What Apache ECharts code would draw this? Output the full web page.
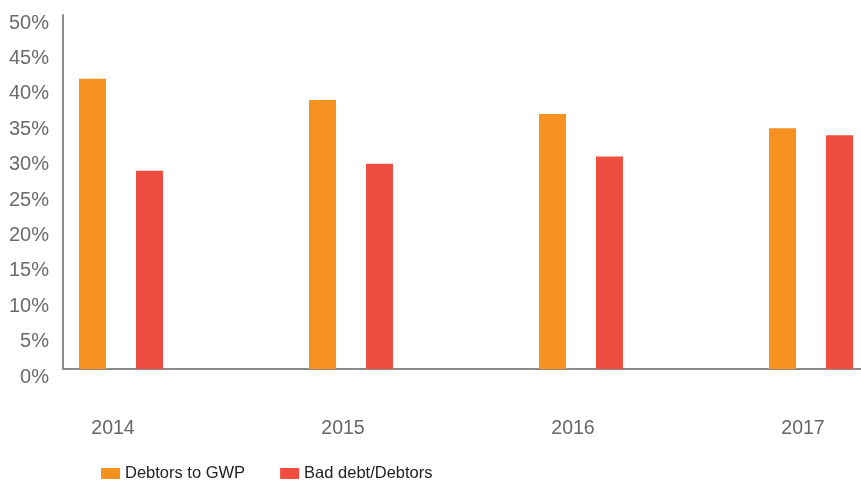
<!DOCTYPE html>
<html>
<head>
<meta charset="utf-8">
<title>Debtors to GWP and Bad debt/Debtors</title>
<script src="https://cdn.jsdelivr.net/npm/echarts@6/dist/echarts.min.js"></script>
<style>
  html, body { margin: 0; padding: 0; background: #ffffff; }
  #chart { width: 861px; height: 481px; }
</style>
</head>
<body>
<div id="chart"></div>
<script>
// Years on the horizontal axis
const years = ['2014', '2015', '2016', '2017'];
// Ratios in percent
const debtorsToGwp = [41, 38, 36, 34];
const badDebtToDebtors = [28, 29, 30, 33];
// Vertical scale
const yMin = 0;
const yMax = 50;
const yStep = 5;

const seriesNames = ['Debtors to GWP', 'Bad debt/Debtors'];
const colors = ['#F79120', '#EF4D40'];
const font = '"Liberation Sans", Arial, Helvetica, sans-serif';

const chart = echarts.init(document.getElementById('chart'), null, { renderer: 'canvas' });

chart.setOption({
  animation: false,
  backgroundColor: '#ffffff',
  grid: [
    // bars: one wide band per year (runs past the right edge)
    { left: 6, top: 15, right: -65, bottom: 112, containLabel: false, outerBoundsMode: 'none' },
    // frame holding the visible axes
    { left: 63, top: 15, right: 0, bottom: 112, containLabel: false, outerBoundsMode: 'none' }
  ],
  legend: {
    data: seriesNames,
    left: 101,
    top: 465,
    padding: 0,
    itemWidth: 19,
    itemHeight: 11,
    itemGap: 35,
    icon: 'rect',
    textStyle: { color: '#222222', fontSize: 16.5, fontFamily: font }
  },
  xAxis: [
    {
      gridIndex: 0,
      type: 'category',
      data: years,
      boundaryGap: true,
      axisLine: { show: false },
      axisTick: { show: false },
      axisLabel: {
        color: '#666666',
        fontSize: 19.5,
        fontFamily: font,
        margin: 50,
        padding: [0, 16, 0, 0]
      },
      splitLine: { show: false }
    },
    {
      gridIndex: 1,
      type: 'value',
      min: 0,
      max: 1,
      axisLine: { show: true, lineStyle: { color: '#8c8c8c', width: 2 } },
      axisTick: { show: false },
      axisLabel: { show: false },
      splitLine: { show: false }
    }
  ],
  yAxis: [
    {
      gridIndex: 0,
      type: 'value',
      min: yMin,
      max: yMax,
      interval: yStep,
      show: false
    },
    {
      gridIndex: 1,
      type: 'value',
      min: yMin,
      max: yMax,
      interval: yStep,
      axisLine: { show: true, lineStyle: { color: '#8c8c8c', width: 2 } },
      axisTick: { show: false },
      splitLine: { show: false },
      axisLabel: {
        color: '#6b6b6b',
        fontSize: 20,
        fontFamily: font,
        margin: 14,
        verticalAlign: 'top',
        lineHeight: 16,
        formatter: v => v + '%'
      }
    }
  ],
  series: [
    {
      name: seriesNames[0],
      type: 'bar',
      xAxisIndex: 0,
      yAxisIndex: 0,
      data: debtorsToGwp,
      barWidth: 27,
      barGap: '111%',
      itemStyle: { color: colors[0] }
    },
    {
      name: seriesNames[1],
      type: 'bar',
      xAxisIndex: 0,
      yAxisIndex: 0,
      data: badDebtToDebtors,
      barWidth: 27,
      barGap: '111%',
      itemStyle: { color: colors[1] }
    }
  ]
});
</script>
</body>
</html>
